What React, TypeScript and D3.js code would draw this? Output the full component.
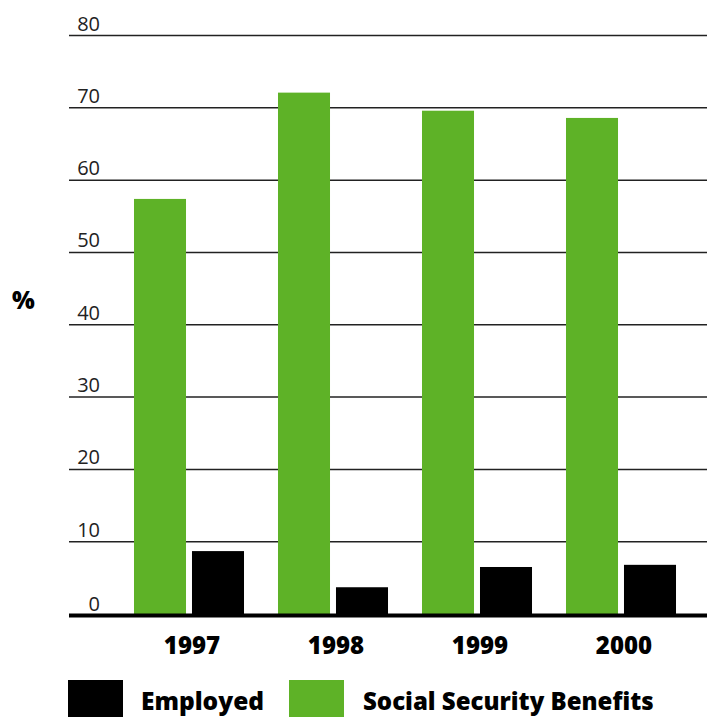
import React from "react";
import * as d3 from "d3";

const years = ["1997", "1998", "1999", "2000"];
const socialSecurity = [57.4, 72.1, 69.6, 68.6];
const employed = [8.7, 3.7, 6.5, 6.8];
const yTicks = [0, 10, 20, 30, 40, 50, 60, 70, 80];
const seriesNames = ["Social Security Benefits", "Employed"];
const seriesColors = ["#5eb227", "#000000"];

export default function App() {
  const W = 707;
  const H = 717;
  const y = d3.scaleLinear().domain([0, 80]).range([614, 35.5]);
  const x0 = d3.scaleBand<string>().domain(years).range([117, 693]).paddingInner(0.236).paddingOuter(0.118);
  const x1 = d3.scaleBand<string>().domain(seriesNames).range([0, x0.bandwidth()]).paddingInner(0.103);
  const seriesValues = [socialSecurity, employed];
  const font = "'Open Sans', 'Noto Sans', sans-serif";

  return (
    <svg width={W} height={H} style={{ position: "absolute", left: 0, top: 0 }}>
      <rect width={W} height={H} fill="#fff" />
      {yTicks.map((t) => (
        <g key={t}>
          {t > 0 && (
            <line x1={69} x2={707} y1={y(t)} y2={y(t)} stroke="#222" strokeWidth={1.5} />
          )}
          <text x={100} y={y(t) - (t === 0 ? 3 : 5)} textAnchor="end" fontFamily={font} fontSize={20} fill="#222" fontWeight={400}>
            {t}
          </text>
        </g>
      ))}
      {years.map((yr, i) => (
        <g key={yr} transform={`translate(${x0(yr)},0)`}>
          {seriesNames.map((s, j) => (
            <rect
              key={s}
              x={x1(s)}
              y={y(seriesValues[j][i])}
              width={x1.bandwidth()}
              height={y(0) - y(seriesValues[j][i])}
              fill={seriesColors[j]}
            />
          ))}
          <text
            x={x0.bandwidth() / 2 + 3}
            y={654}
            textAnchor="middle"
            fontFamily={font}
            fontWeight={800}
            fontSize={24}
            fill="#000"
          >
            {yr}
          </text>
        </g>
      ))}
      <line x1={69} x2={707} y1={615.5} y2={615.5} stroke="#000" strokeWidth={4} />
      <text x={12} y={309} fontFamily={font} fontWeight={800} fontSize={24} fill="#000">%</text>
      {/* Legend */}
      <rect x={68} y={680} width={55} height={40} fill={seriesColors[1]} />
      <text x={141} y={710} fontFamily={font} fontWeight={800} fontSize={24.5} fill="#000">{seriesNames[1]}</text>
      <rect x={289} y={680} width={55} height={40} fill={seriesColors[0]} />
      <text x={363} y={710} fontFamily={font} fontWeight={800} fontSize={24} fill="#000">{seriesNames[0]}</text>
    </svg>
  );
}
